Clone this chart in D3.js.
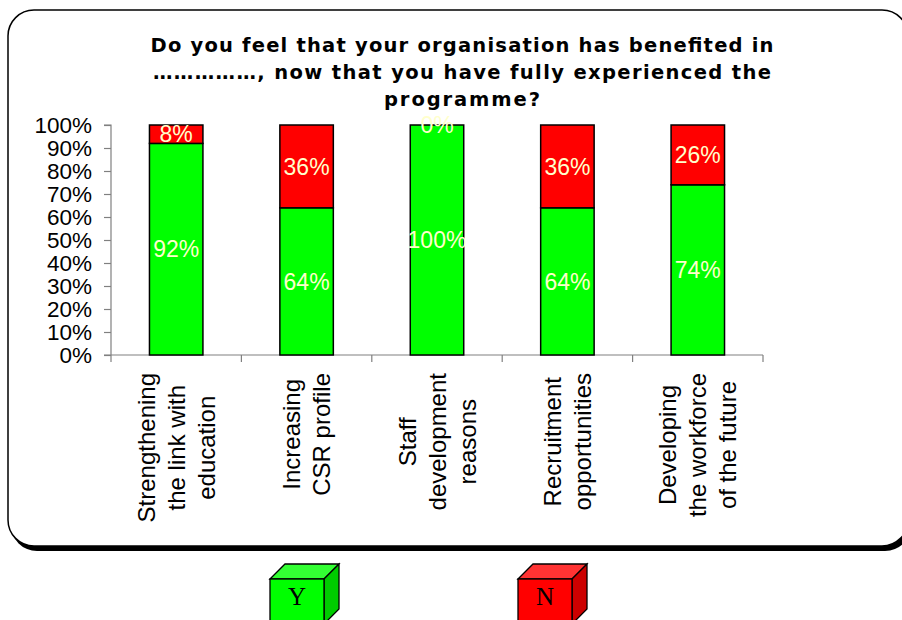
<!DOCTYPE html>
<html>
<head>
<meta charset="utf-8">
<script src="https://cdn.jsdelivr.net/npm/d3@7"></script>
<style>
  html, body { margin: 0; padding: 0; background: #fff; }
  svg { display: block; }
</style>
</head>
<body>
<svg id="chart" width="902" height="620"></svg>
<script>
// Survey answers per benefit area (percent of respondents)
const categories = [
  "Strengthening the link with education",
  "Increasing CSR profile",
  "Staff development reasons",
  "Recruitment opportunities",
  "Developing the workforce of the future"
];
const categoryLines = [
  ["Strengthening", "the link with", "education"],
  ["Increasing", "CSR profile"],
  ["Staff", "development", "reasons"],
  ["Recruitment", "opportunities"],
  ["Developing", "the workforce", "of the future"]
];
const yesValues = [92, 64, 100, 64, 74];
const noValues = [8, 36, 0, 36, 26];
const seriesNames = ["Y", "N"];
const yTicks = [0, 10, 20, 30, 40, 50, 60, 70, 80, 90, 100];
const titleLines = [
  "Do you feel that your organisation has benefited in",
  "……………, now that you have fully experienced the",
  "programme?"
];
const titleWidths = [623, 618, 156];

const svg = d3.select("#chart");
const font = "'Liberation Sans', Arial, sans-serif";

// Rounded chart frame with a drop shadow
svg.append("rect")
  .attr("x", 11).attr("y", 15).attr("width", 900).attr("height", 536)
  .attr("rx", 26).attr("ry", 26).attr("fill", "#000");
svg.append("rect")
  .attr("x", 8).attr("y", 10).attr("width", 900).attr("height", 536)
  .attr("rx", 26).attr("ry", 26)
  .attr("fill", "#fff").attr("stroke", "#000").attr("stroke-width", 1.5);

// Title
const title = svg.append("text")
  .attr("text-anchor", "middle")
  .attr("font-family", "'DejaVu Sans', Verdana, sans-serif")
  .attr("font-weight", "bold")
  .attr("font-size", 19.5)
  .attr("fill", "#000");
titleLines.forEach((t, i) => {
  title.append("tspan")
    .attr("x", 462).attr("y", 52 + i * 27)
    .attr("textLength", titleWidths[i])
    .attr("lengthAdjust", "spacing")
    .text(t);
});

// Scales
const x = d3.scaleBand().domain(categories).range([111, 763]).paddingInner(0).paddingOuter(0);
const y = d3.scaleLinear().domain([0, 100]).range([355, 125]);
const barW = x.bandwidth() * 0.41;

// Y axis
const yAxis = svg.append("g")
  .attr("transform", "translate(111,0)")
  .call(d3.axisLeft(y).tickValues(yTicks).tickSize(7).tickPadding(12).tickFormat(d => d + "%"));
yAxis.selectAll("path, line").attr("stroke", "#808080").attr("stroke-width", 1.2);
yAxis.select(".domain").attr("d", "M-7,125H0V355");
yAxis.selectAll("text")
  .attr("font-family", font).attr("font-size", 22.5).attr("fill", "#000");

// X axis: baseline and ticks at category boundaries
const xg = svg.append("g");
xg.append("line")
  .attr("x1", 104).attr("x2", x.range()[1]).attr("y1", y(0)).attr("y2", y(0))
  .attr("stroke", "#808080").attr("stroke-width", 1.2);
const bounds = categories.map(c => x(c) + x.bandwidth()).concat([x(categories[0])]);
xg.selectAll("line.tick").data(bounds).join("line")
  .attr("class", "tick")
  .attr("x1", d => d).attr("x2", d => d)
  .attr("y1", y(0)).attr("y2", y(0) + 7)
  .attr("stroke", "#808080").attr("stroke-width", 1.2);

// Stacked bars
const rows = categories.map((c, i) => ({ cat: c, Y: yesValues[i], N: noValues[i] }));
const stack = d3.stack().keys(seriesNames)(rows);
const colors = { Y: "#00FF00", N: "#FF0000" };

const layers = svg.append("g").selectAll("g").data(stack).join("g")
  .attr("fill", d => colors[d.key]);
layers.selectAll("rect").data(d => d).join("rect")
  .attr("x", d => x(d.data.cat) + (x.bandwidth() - barW) / 2)
  .attr("y", d => y(d[1]))
  .attr("width", barW)
  .attr("height", d => y(d[0]) - y(d[1]))
  .attr("stroke", "#000").attr("stroke-width", 1.5);

// Value labels centred in each segment
stack.forEach(layer => {
  svg.append("g").selectAll("text").data(layer).join("text")
    .attr("x", d => x(d.data.cat) + x.bandwidth() / 2)
    .attr("y", d => (y(d[0]) + y(d[1])) / 2)
    .attr("dy", "0.36em")
    .attr("text-anchor", "middle")
    .attr("font-family", font).attr("font-size", 23)
    .attr("fill", "#FFFFCC")
    .text(d => (d[1] - d[0]) + "%");
});

// Rotated multi-line category labels, block top-aligned under the axis
const labelTop = 373;
const lineGap = 30;
categoryLines.forEach((lines, i) => {
  const cx = x(categories[i]) + x.bandwidth() / 2;
  const g = svg.append("g");
  const t = g.append("text")
    .attr("text-anchor", "middle")
    .attr("font-family", font).attr("font-size", 24)
    .attr("fill", "#000");
  const spans = lines.map((ln, j) =>
    t.append("tspan")
      .attr("x", 0)
      .attr("y", (j - (lines.length - 1) / 2) * lineGap)
      .attr("dy", "0.36em")
      .text(ln));
  const maxLen = d3.max(spans, s => s.node().getComputedTextLength());
  g.attr("transform", `translate(${cx},${labelTop + maxLen / 2}) rotate(-90)`);
});

// Legend drawn as small cubes
const legendItems = [
  { name: seriesNames[0], x: 270, front: "#00FF00", top: "#33FF33", side: "#00CC00" },
  { name: seriesNames[1], x: 518, front: "#FF0000", top: "#FF3333", side: "#CC0000" }
];
const cw = 54, ch = 45, depth = 15, cy = 579;
const lg = svg.append("g").selectAll("g").data(legendItems).join("g")
  .attr("transform", d => `translate(${d.x},${cy})`);
lg.append("path")
  .attr("d", `M0,0L${depth},${-depth}H${cw + depth}L${cw},0Z`)
  .attr("fill", d => d.top).attr("stroke", "#000").attr("stroke-width", 1.3);
lg.append("path")
  .attr("d", `M${cw},0L${cw + depth},${-depth}V${ch - depth}L${cw},${ch}Z`)
  .attr("fill", d => d.side).attr("stroke", "#000").attr("stroke-width", 1.3);
lg.append("rect")
  .attr("width", cw).attr("height", ch)
  .attr("fill", d => d.front).attr("stroke", "#000").attr("stroke-width", 1.3);
lg.append("text")
  .attr("x", cw / 2).attr("y", 26)
  .attr("text-anchor", "middle")
  .attr("font-family", "'Liberation Serif', 'Times New Roman', serif")
  .attr("font-size", 25).attr("fill", "#000")
  .text(d => d.name);
</script>
</body>
</html>
